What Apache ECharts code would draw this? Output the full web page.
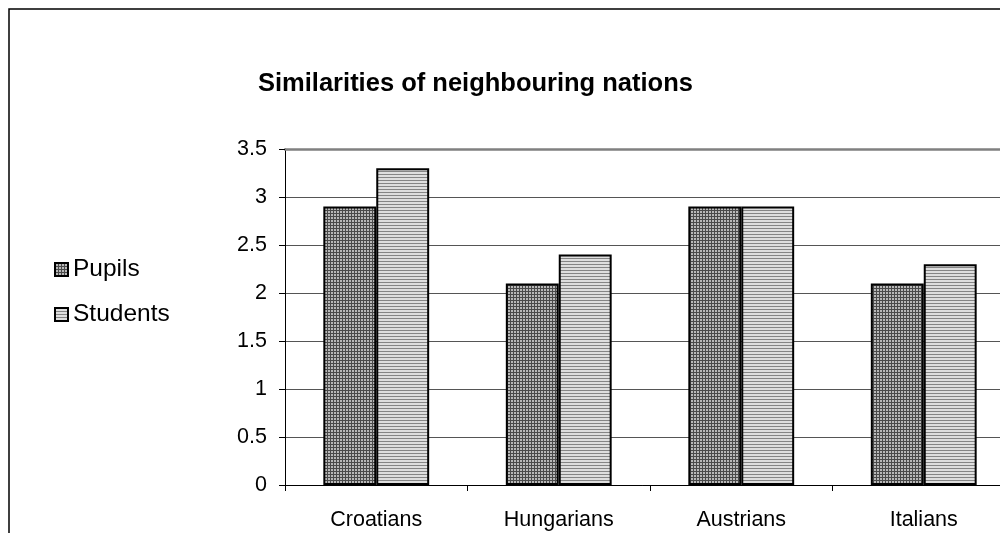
<!DOCTYPE html>
<html><head><meta charset="utf-8">
<script src="https://cdn.jsdelivr.net/npm/echarts@6/dist/echarts.min.js"></script>
<style>html,body{margin:0;padding:0;background:#fff}#c{width:1000px;height:533px}</style>
</head><body><div id="c"></div>
<script>
const titleText = 'Similarities of neighbouring nations';
const categories = ['Croatians', 'Hungarians', 'Austrians', 'Italians'];
const seriesNames = ['Pupils', 'Students'];
const pupils = [2.9, 2.1, 2.9, 2.1];
const students = [3.3, 2.4, 2.9, 2.3];
const yTicks = [0, 0.5, 1, 1.5, 2, 2.5, 3, 3.5];

function makePattern(kind) {
  const c = document.createElement('canvas');
  c.width = 3; c.height = 3;
  const g = c.getContext('2d');
  if (kind === 'grid') {
    g.fillStyle = '#b8b8b8'; g.fillRect(0, 0, 3, 3);
    g.fillStyle = '#4a4a4a'; g.fillRect(0, 0, 1, 3); g.fillRect(0, 0, 3, 1);
  } else {
    g.fillStyle = '#dedede'; g.fillRect(0, 0, 3, 3);
    g.fillStyle = '#858585'; g.fillRect(0, 0, 3, 1);
  }
  return { image: c, repeat: 'repeat' };
}
const patPupils = makePattern('grid');
const patStudents = makePattern('stripe');

const font = 'Arial, "Liberation Sans", sans-serif';
const chart = echarts.init(document.getElementById('c'));
chart.setOption({
  animation: false,
  backgroundColor: '#fff',
  title: { text: titleText, left: 253, top: 66,
    textStyle: { fontFamily: font, fontSize: 25.5, fontWeight: 'bold', color: '#000' } },
  legend: { orient: 'vertical', left: 54, top: 257, itemGap: 20, padding: 0,
    itemWidth: 13, itemHeight: 13, icon: 'rect', itemTextGap: 9,
    textStyle: { fontFamily: font, fontSize: 24.5, color: '#000' },
    data: seriesNames },
  graphic: [{ type: 'rect', shape: { x: 9, y: 9, width: 1200, height: 800 }, silent: true,
    style: { fill: 'none', stroke: '#000', lineWidth: 1.5 }, z: 100 }],
  grid: { left: 285, top: 149, width: 730, height: 336, outerBoundsMode: 'none', containLabel: false },
  xAxis: [{ type: 'category', data: categories,
    axisLine: { lineStyle: { color: '#000', width: 1 } },
    axisTick: { show: true, length: 6, alignWithLabel: false, lineStyle: { color: '#000' } },
    axisLabel: { fontFamily: font, fontSize: 21.5, color: '#000', margin: 24 } },
    { type: 'category', data: categories, position: 'top',
    axisLine: { show: true, lineStyle: { color: '#808080', width: 2.5 } },
    axisTick: { show: false }, axisLabel: { show: false }, splitLine: { show: false } }],
  yAxis: { type: 'value', min: 0, max: 3.5, interval: 0.5,
    axisLine: { show: true, lineStyle: { color: '#000', width: 1 } },
    axisTick: { show: true, length: 6, lineStyle: { color: '#000' } },
    axisLabel: { fontFamily: font, fontSize: 21.5, color: '#000', margin: 18,
      formatter: v => yTicks.includes(v) ? String(v) : '' },
    splitLine: { lineStyle: { color: '#555', width: 1 } } },
  series: [
    { name: seriesNames[0], type: 'bar', data: pupils, barGap: '0%', barCategoryGap: '42%',
      itemStyle: { color: patPupils, borderColor: '#000', borderWidth: 2 } },
    { name: seriesNames[1], type: 'bar', data: students, barGap: '0%', barCategoryGap: '42%',
      itemStyle: { color: patStudents, borderColor: '#000', borderWidth: 2 } }
  ]
});
</script></body></html>
